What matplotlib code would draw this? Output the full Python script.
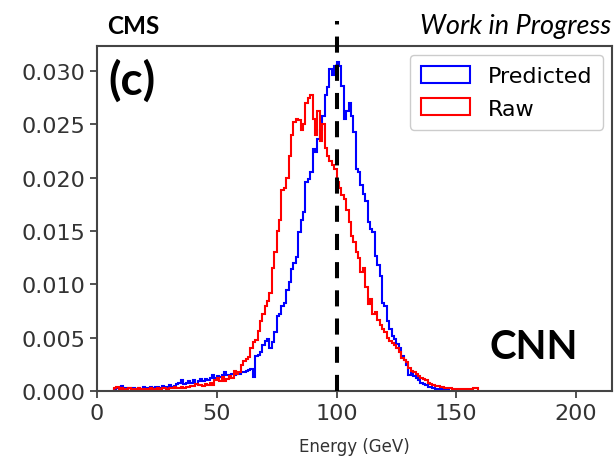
import numpy as np
import matplotlib
matplotlib.use("Agg")
import matplotlib.pyplot as plt
from matplotlib.patches import Rectangle

# 1 GeV bins, heights (units of 1e-4)
raw_start = 7
raw_vals = [
    3, 4, 2, 3, 2, 2, 3, 1, 2, 2, 3, 2, 1, 2, 2, 3, 2, 2, 3, 2,
    3, 3, 2, 3, 3, 4, 3, 3, 4, 3, 4, 4, 5, 5, 7, 6, 6, 5, 7, 6,
    8, 6, 10, 12, 9, 13, 9, 11, 14, 12, 19, 16, 18, 24, 28, 30, 32, 40, 46, 48,
    56, 66, 72, 80, 84, 92, 115, 130, 150, 160, 188, 190, 200, 220, 240, 252, 255, 254, 245, 250,
    270, 275, 277, 255, 240, 262, 234, 250, 228, 220, 216, 212, 208, 196, 190, 184, 180, 170, 158, 145,
    140, 130, 125, 112, 115, 98, 82, 86, 72, 74, 67, 62, 58, 55, 50, 47, 45, 43, 40, 37,
    31, 29, 27, 22, 19, 18, 16, 14, 12, 11, 10, 8, 7, 6, 5, 5, 4, 4, 3, 3,
    3, 2, 2, 2, 2, 2, 2, 1, 2, 2, 3, 3,
]

pred_start = 7
pred_vals = [
    2, 3, 3, 5, 3, 2, 3, 2, 3, 2, 3, 2, 4, 3, 3, 4, 3, 4, 4, 3,
    5, 4, 4, 6, 4, 5, 7, 8, 10, 7, 8, 9, 8, 10, 7, 9, 11, 9, 11, 10,
    12, 15, 12, 14, 13, 15, 18, 15, 14, 16, 15, 17, 16, 18, 18, 19, 20, 21, 13, 33,
    34, 37, 43, 47, 49, 40, 46, 55, 70, 72, 80, 83, 95, 102, 114, 120, 126, 149, 160, 168,
    196, 199, 205, 227, 224, 236, 245, 258, 277, 285, 302, 296, 305, 308, 305, 286, 255, 262, 270, 258,
    243, 208, 205, 193, 185, 178, 158, 152, 149, 127, 118, 108, 83, 80, 66, 58, 52, 49, 44, 40,
    33, 29, 24, 15, 18, 14, 12, 10, 8, 7, 6, 4, 4, 3, 2, 2, 2, 2, 1, 1,
]

true_energy = 100

raw = np.array(raw_vals) * 1e-4
pred = np.array(pred_vals) * 1e-4
raw_edges = raw_start + np.arange(len(raw) + 1)
pred_edges = pred_start + np.arange(len(pred) + 1)

fig = plt.figure(figsize=(6.16, 4.64), dpi=100)
ax = fig.add_axes([0.1575, 0.155, 0.836, 0.744])

ax.stairs(pred, pred_edges, color="blue", linewidth=1.5, label="Predicted")
ax.stairs(raw, raw_edges, color="red", linewidth=1.5, label="Raw")

line, = ax.plot([true_energy, true_energy], [0, 0.0347], color="black",
                linewidth=2.9, clip_on=False, zorder=5)
line.set_dashes((4, 3))

ax.set_xlim(0, 215)
ax.set_ylim(0, 0.03235)
ax.set_xticks([0, 50, 100, 150, 200])
ax.set_yticks([0, 0.005, 0.010, 0.015, 0.020, 0.025, 0.030])
ax.set_yticklabels(["0.000", "0.005", "0.010", "0.015", "0.020", "0.025", "0.030"])
ax.tick_params(labelsize=16, labelcolor="#333333", color="#333333", length=5, width=1.2)
for sp in ax.spines.values():
    sp.set_color("#444444")
    sp.set_linewidth(1.5)
ax.set_xlabel("Energy (GeV)", fontsize=12, color="#333333", labelpad=10)

handles = [Rectangle((0, 0), 1, 1, fill=False, edgecolor="blue", linewidth=1.5),
           Rectangle((0, 0), 1, 1, fill=False, edgecolor="red", linewidth=1.5)]
ax.legend(handles, ["Predicted", "Raw"], loc="upper right", fontsize=16,
          handlelength=2.2, handleheight=0.8, borderaxespad=0.4, borderpad=0.5,
          labelspacing=0.55, handletextpad=0.8, framealpha=1, edgecolor="#cccccc")

ax.text(0.022, 0.965, "(c)", transform=ax.transAxes, fontsize=33, fontweight="bold",
        family="Lato", va="top", ha="left")
ax.text(0.934, 0.075, "CNN", transform=ax.transAxes, fontsize=29, fontweight="bold",
        family="Lato", va="bottom", ha="right")
fig.text(0.174, 0.942, "CMS", fontsize=17.5, fontweight="bold", family="Lato",
         va="center", ha="left")
fig.text(0.993, 0.942, "Work in Progress", fontsize=19.5, style="italic", family="Lato",
         va="center", ha="right")

fig.savefig("out.png", dpi=100)
